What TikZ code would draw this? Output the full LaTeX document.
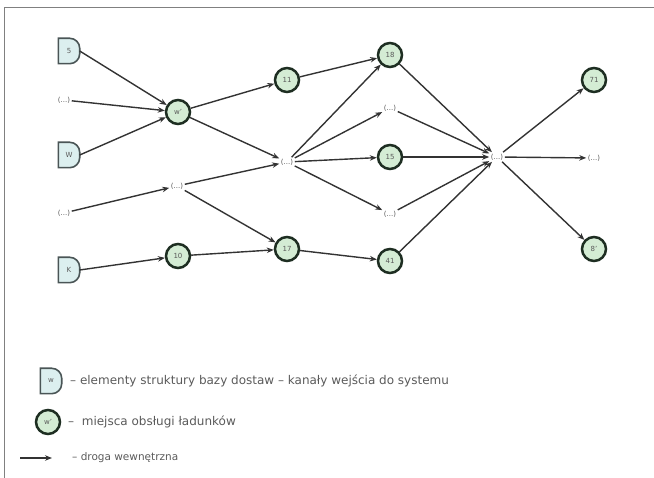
\documentclass[tikz,border=0pt]{standalone}
\usepackage{fontspec}
\setmainfont{DejaVu Sans}
\usetikzlibrary{arrows.meta,backgrounds}
\definecolor{circfill}{HTML}{D4ECD4}
\definecolor{circline}{HTML}{1E2E22}
\definecolor{dfill}{HTML}{DCEFEF}
\definecolor{dline}{HTML}{4A5556}
\definecolor{txt}{HTML}{5A5A5A}
\begin{document}
\begin{tikzpicture}[x=1pt,y=-1pt,
  place/.style={circle,draw=circline,line width=2.5pt,fill=circfill,minimum size=24pt,inner sep=0pt,font=\fontsize{7}{7}\selectfont,text=txt},
  dbox/.style={minimum width=21pt,minimum height=25pt,inner sep=0pt,font=\fontsize{7}{7}\selectfont,text=txt},
  dots/.style={inner sep=1.5pt,font=\fontsize{7}{8}\selectfont,text=txt},
  road/.style={-{Stealth[length=7pt,width=5.5pt]},line width=1.4pt,draw=black!80},
  dout/.style={draw=dline,line width=1.6pt,fill=dfill},
  legend/.style={anchor=west,inner sep=0pt,font=\fontsize{12}{14}\selectfont,text=txt},
  legendsm/.style={anchor=west,inner sep=0pt,font=\fontsize{10.5}{12}\selectfont,text=txt}]
\useasboundingbox (0,0) rectangle (654,478);
% frame
\draw[gray,line width=1pt] (4,478) -- (4,8) -- (654,8);
% column 0
\node[dbox] (d5) at (69,51) {5};
\node[dots] (i1) at (64,100) {(...)};
\node[dbox] (dW) at (69,155) {W};
\node[dots] (i2) at (64,213) {(...)};
\node[dbox] (dK) at (69,270) {K};
% column 1
\node[place] (w) at (178,112) {w'};
\node[dots] (m1) at (177,186) {(...)};
\node[place] (n10) at (178,256) {10};
% column 2
\node[place] (n11) at (287,80) {11};
\node[dots] (c) at (287,162) {(...)};
\node[place] (n17) at (287,249) {17};
% column 3
\node[place] (n18) at (390,55) {18};
\node[dots] (u1) at (390,108) {(...)};
\node[place] (n15) at (390,157) {15};
\node[dots] (u2) at (390,214) {(...)};
\node[place] (n41) at (390,261) {41};
% column 4
\node[dots] (e) at (497,157) {(...)};
% column 5
\node[place] (n71) at (594,80) {71};
\node[dots] (o) at (594,158) {(...)};
\node[place] (n8) at (594,249) {8'};
% legend
\node[dbox] (ld) at (51,381) {w};
\node[legend] (lt1) at (70,381) {– elementy struktury bazy dostaw – kanały wejścia do systemu};
\node[place] (lc) at (48,422) {w'};
\node[legend] (lt2) at (68,422) {–\ \ miejsca obsługi ładunków};
\coordinate (la) at (20,458);
\coordinate (lb) at (52,458);
\node[legendsm] (lt3) at (72,458) {– droga wewnętrzna};
% D shapes
\begin{scope}[on background layer]
\foreach \n in {d5,dW,dK,ld}{
  \draw[dout] (\n.south west) -- (\n.north west) [rounded corners=10pt] -- (\n.north east) -- (\n.south east) [sharp corners] -- cycle;
}
\end{scope}
% connectors
\draw[road] (d5.east) -- (w);
\draw[road] (i1) -- (w);
\draw[road] (dW.east) -- (w);
\draw[road] (i2) -- (m1);
\draw[road] (dK.east) -- (n10);
\draw[road] (w) -- (n11);
\draw[road] (w) -- (c);
\draw[road] (m1) -- (c);
\draw[road] (m1) -- (n17);
\draw[road] (n10) -- (n17);
\draw[road] (n11) -- (n18);
\draw[road] (c) -- (n18);
\draw[road] (c) -- (u1);
\draw[road] (c) -- (n15);
\draw[road] (c) -- (u2);
\draw[road] (n17) -- (n41);
\draw[road] (n18) -- (e);
\draw[road] (u1) -- (e);
\draw[road] (n15) -- (e);
\draw[road] (u2) -- (e);
\draw[road] (n41) -- (e);
\draw[road] (e) -- (n71);
\draw[road] (e) -- (o);
\draw[road] (e) -- (n8);
\draw[road] (la) -- (lb);
\end{tikzpicture}
\end{document}
